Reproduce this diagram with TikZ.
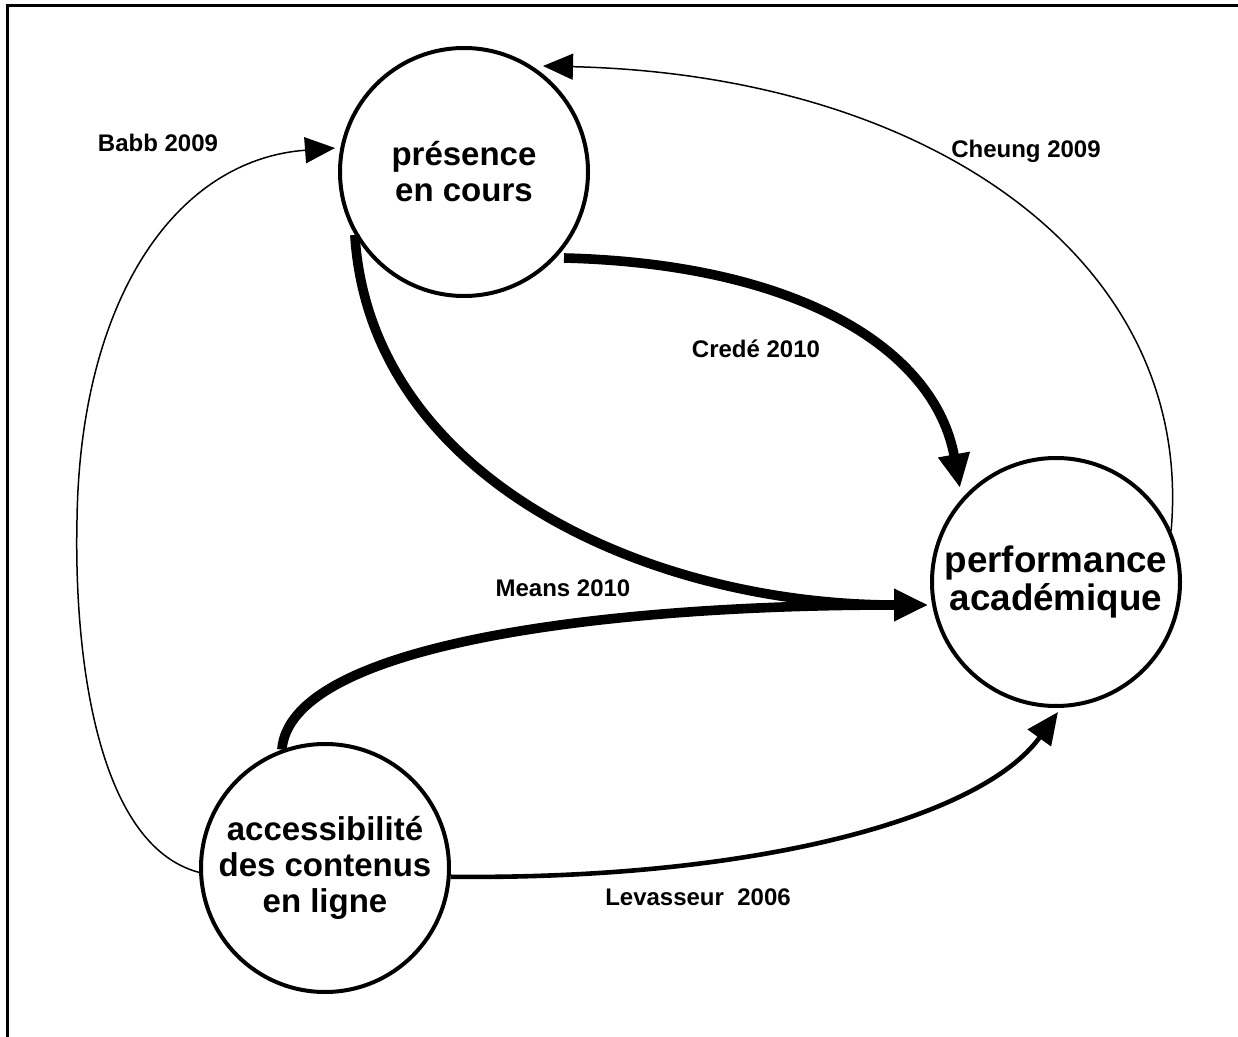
\documentclass[tikz,border=0pt]{standalone}
\usepackage{fontspec}
\setmainfont{Liberation Sans}
\usetikzlibrary{arrows.meta}
\begin{document}
\begin{tikzpicture}[x={(0.5pt,0)},y={(0,-0.5pt)},
  concept/.style={circle,draw,line width=2pt,minimum size=124pt,inner sep=0pt,
    align=center,font=\bfseries\fontsize{16.5}{18}\selectfont},
  cite/.style={font=\bfseries\fontsize{12}{14}\selectfont},
  thinlink/.style={line width=0.75pt,-{Triangle[length=15pt,width=13pt]}},
  midlink/.style={line width=2.3pt,-{Triangle[length=16pt,width=14pt]}},
  boldlink/.style={line width=4.8pt,-{Triangle[length=17pt,width=15pt]}}]
\useasboundingbox (0,0) rectangle (1238,1037);
% partial frame
\draw[line width=1.5pt] (7,1037) -- (7,6) -- (1238,6);

% concepts
\node[concept] (pres) at (464,172) {présence\\en cours};
\node[concept,font=\bfseries\fontsize{18.4}{19}\selectfont] (perf) at (1056,582)
  {performance\\académique};
\node[concept] (acc) at (325,868) {accessibilité\\des contenus\\en ligne};

% free ends of the arrows
\coordinate (babbEnd) at (335,148);
\coordinate (cheungEnd) at (543,66);
\coordinate (credeStart) at (564,258);
\coordinate (credeEnd) at (960,488);
\coordinate (joinEnd) at (928,605);
\coordinate (levEnd) at (1058,712);

% links
\draw[thinlink] (acc.182) .. controls (95,845) and (74,650) .. (77,520)
  .. controls (80,300) and (175,160) .. (babbEnd);
\draw[thinlink] (perf.24) .. controls (1195,260) and (930,75) .. (cheungEnd);
\draw[boldlink] (credeStart) .. controls (800,264) and (935,350) .. (credeEnd);
\draw[boldlink] (pres.210) .. controls (370,480) and (650,605) .. (joinEnd);
\draw[boldlink] (acc.110) .. controls (290,645) and (600,605) .. (joinEnd);
\draw[midlink] (acc.-4) .. controls (750,880) and (980,820) .. (levEnd);

% citations
\node[cite] (babb) at (158,143) {Babb 2009};
\node[cite] (cheung) at (1026,151) {Cheung 2009};
\node[cite] (crede) at (756,349) {Credé 2010};
\node[cite] (means) at (563,588) {Means 2010};
\node[cite] (lev) at (698,897) {Levasseur\ \ 2006};
\end{tikzpicture}
\end{document}
